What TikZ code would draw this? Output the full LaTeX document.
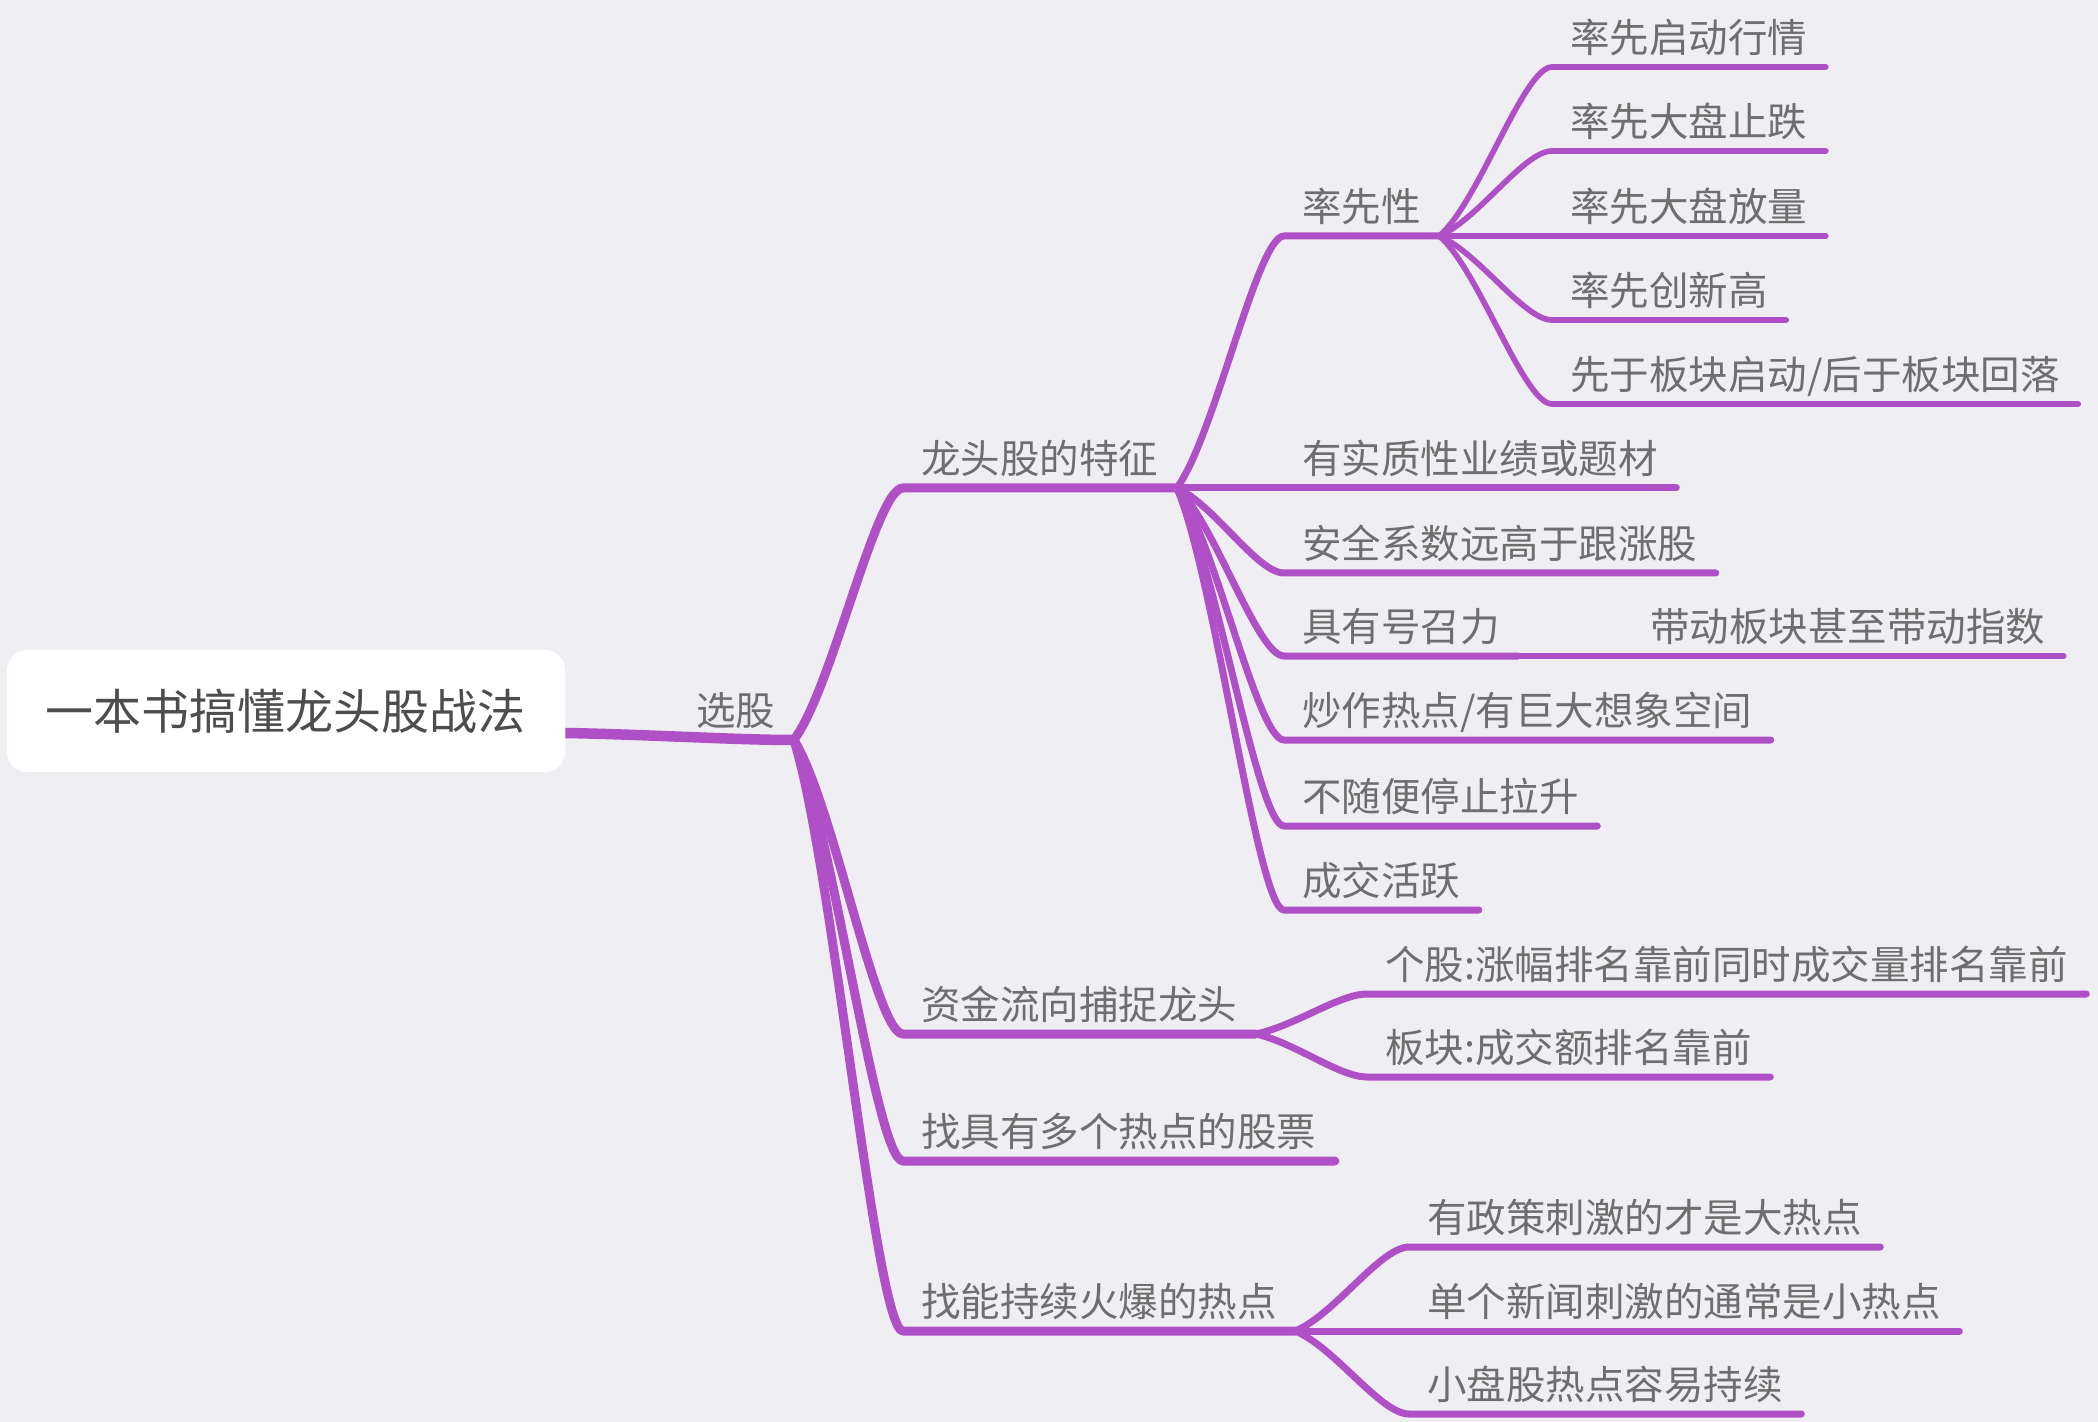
\documentclass[tikz,border=0pt]{standalone}
\usepackage{fontspec}
\setmainfont{Noto Sans CJK SC}
\usetikzlibrary{calc}
\definecolor{MapPurple}{HTML}{B050C6}
\definecolor{MapBack}{HTML}{EFEEF3}
\definecolor{MapGray}{HTML}{6E6E6E}
\definecolor{MapDark}{HTML}{4D4D4D}

\begin{document}
\begin{tikzpicture}[x=0.5pt,y=0.5pt,line cap=round,line join=round,
  t/.style={anchor=south west,inner xsep=9pt,inner ysep=7pt,text depth=0pt,text=MapGray,font=\fontsize{19.75}{20}\selectfont},
  root/.style={fill=white,rounded corners=10pt,minimum width=279pt,minimum height=61pt,text=MapDark,font=\fontsize{24}{26}\selectfont},
  br/.style={draw=MapPurple,line width=#1,to path={let \p1=(\tikztostart),\p2=(\tikztotarget) in
    .. controls ({\x1+0.35*(\x2-\x1)},{\y1+0.2*(\y2-\y1)}) and ({\x1+0.75*(\x2-\x1)},\y2) .. (\p2)}}]
  \fill[MapBack] (0,0) rectangle (2098,-1422);
  \useasboundingbox (0,0) rectangle (2098,-1422);
  \node[root] (root) at (286,-711) {一本书搞懂龙头股战法};
  \node[t] (xg) at (678,-740) {选股};
  \node[t] (lt) at (903,-488) {龙头股的特征};
  \node[t] (zj) at (903,-1034) {资金流向捕捉龙头};
  \node[t] (zd) at (903,-1161) {找具有多个热点的股票};
  \node[t] (zn) at (903,-1331) {找能持续火爆的热点};
  \node[t] (lx) at (1284,-236) {率先性};
  \node[t] (sz) at (1284,-488) {有实质性业绩或题材};
  \node[t] (aq) at (1284,-573) {安全系数远高于跟涨股};
  \node[t] (hz) at (1284,-656) {具有号召力};
  \node[t] (cz) at (1284,-740) {炒作热点/有巨大想象空间};
  \node[t] (bs) at (1284,-826) {不随便停止拉升};
  \node[t] (hy) at (1284,-910) {成交活跃};
  \node[t] (dd) at (1632,-656) {带动板块甚至带动指数};
  \node[t] (l1) at (1552,-67) {率先启动行情};
  \node[t] (l2) at (1552,-151) {率先大盘止跌};
  \node[t] (l3) at (1552,-236) {率先大盘放量};
  \node[t] (l4) at (1552,-320) {率先创新高};
  \node[t] (l5) at (1552,-404) {先于板块启动/后于板块回落};
  \node[t] (gg) at (1367,-994) {个股:涨幅排名靠前同时成交量排名靠前};
  \node[t] (bk) at (1367,-1077) {板块:成交额排名靠前};
  \node[t] (zc) at (1409,-1247) {有政策刺激的才是大热点};
  \node[t] (xw) at (1409,-1331) {单个新闻刺激的通常是小热点};
  \node[t] (xp) at (1409,-1414) {小盘股热点容易持续};
  \draw[br=5.25pt,line cap=butt] ([yshift=-11pt]root.east) to (xg.south east);
  \foreach \p/\c/\w in {xg/lt/4.5,xg/zj/4.5,xg/zd/4.5,xg/zn/4.5,
    lt/lx/3.5,lt/sz/3.5,lt/aq/3.5,lt/hz/3.5,lt/cz/3.5,lt/bs/3.5,lt/hy/3.5,
    lx/l1/2.85,lx/l2/2.85,lx/l3/2.85,lx/l4/2.85,lx/l5/2.85,hz/dd/2.85,
    zj/gg/3.5,zj/bk/3.5,zn/zc/3.5,zn/xw/3.5,zn/xp/3.5}
    \draw[br=\w pt] (\p.south east) to (\c.south west) -- (\c.south east);
\end{tikzpicture}
\end{document}
